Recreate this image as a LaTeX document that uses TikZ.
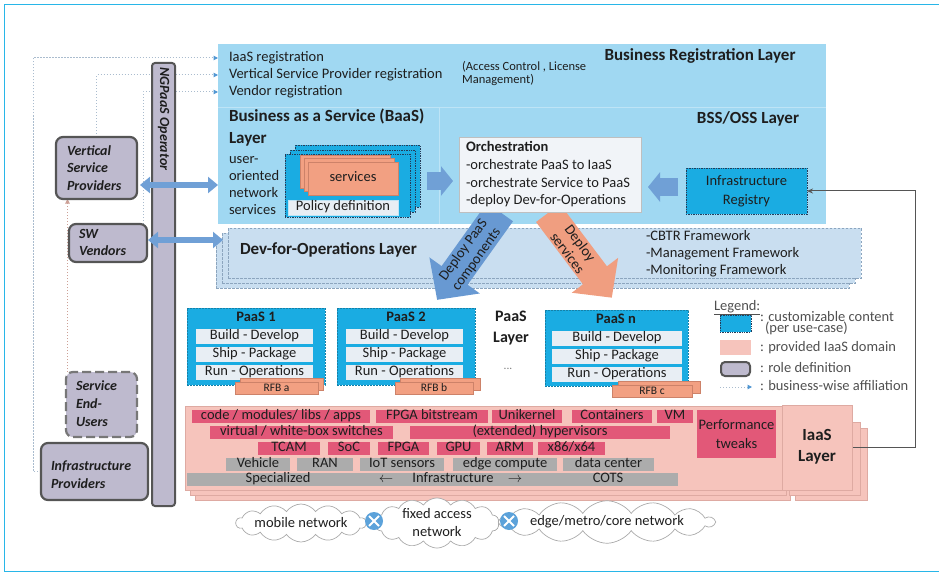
\documentclass[tikz,border=0pt]{standalone}
\usepackage{fontspec}
\setmainfont{Carlito}
\usetikzlibrary{shapes.symbols,arrows.meta,backgrounds,calc}
\definecolor{layerblue}{RGB}{160,216,242}
\definecolor{sepblue}{RGB}{190,228,246}
\definecolor{custcyan}{RGB}{26,172,226}
\definecolor{custborder}{RGB}{35,60,90}
\definecolor{salmon}{RGB}{242,160,130}
\definecolor{salmonborder}{RGB}{205,130,105}
\definecolor{iaaspink}{RGB}{246,196,188}
\definecolor{iaasborder}{RGB}{222,170,162}
\definecolor{crimson}{RGB}{226,88,120}
\definecolor{rowgray}{RGB}{172,172,172}
\definecolor{devops}{RGB}{201,222,240}
\definecolor{devborder}{RGB}{140,165,190}
\definecolor{orchfill}{RGB}{241,244,248}
\definecolor{rowfill}{RGB}{232,238,244}
\definecolor{rolefill}{RGB}{190,186,206}
\definecolor{roleborder}{RGB}{85,85,85}
\definecolor{arrowblue}{RGB}{112,160,214}
\definecolor{deployblue}{RGB}{104,153,210}
\definecolor{deploysalmon}{RGB}{240,158,128}
\definecolor{affil}{RGB}{170,188,206}
\definecolor{affiltip}{RGB}{80,150,210}
\definecolor{affilpink}{RGB}{205,160,150}
\definecolor{frameblue}{RGB}{40,182,232}
\definecolor{txt}{RGB}{30,30,30}
\definecolor{legtxt}{RGB}{80,80,80}
\definecolor{xblue}{RGB}{92,162,218}
\definecolor{cloudline}{RGB}{170,170,170}

\newcommand{\mybox}[7][]{\node[inner sep=0pt,outer sep=0pt,minimum width={#5-#3},minimum height={#6-#4},#1] (#2) at ({(#3+#5)/2},{(#4+#6)/2}) {#7};}

\tikzset{
  tx/.style={inner sep=0pt, outer sep=0pt, text height=0.78em, text depth=0.1em, text=txt},
  f14/.style={tx, font=\fontsize{14.5}{17}\selectfont},
  f11/.style={tx, font=\fontsize{11.5}{13}\selectfont},
  b17/.style={tx, font=\bfseries\fontsize{17}{20}\selectfont},
  b16/.style={tx, font=\bfseries\fontsize{16}{20}\selectfont},
  b145/.style={tx, font=\bfseries\fontsize{14.5}{17}\selectfont},
  bi14/.style={tx, font=\bfseries\itshape\fontsize{14}{17}\selectfont},
  m14/.style={inner sep=0pt, outer sep=0pt, align=center, text=txt, font=\fontsize{14.5}{19}\selectfont},
  cust/.style={fill=custcyan, draw=custborder, line width=0.8pt, dash pattern=on 1.4pt off 1pt},
  devbox/.style={fill=devops, draw=devborder, line width=0.6pt, dash pattern=on 2.5pt off 1.5pt},
  paasbox/.style={fill=custcyan, draw=custcyan!75!black, line width=0.5pt, dash pattern=on 2pt off 1pt},
  rowbox/.style={fill=rowfill, f14},
  rfb/.style={fill=salmon, draw=salmonborder, line width=0.4pt, f11},
  svc/.style={fill=salmon, draw=salmonborder, line width=0.3pt},
  iaasbox/.style={fill=iaaspink, draw=iaasborder, line width=0.5pt},
  redrow/.style={fill=crimson, f14},
  grayrow/.style={fill=rowgray, f14},
  rolebox/.style={fill=rolefill, draw=roleborder, line width=2.2pt, rounded corners=7pt},
  affline/.style={draw=affil, line width=1pt, dash pattern=on 1.2pt off 1.8pt, -{Triangle[length=4.5pt,width=4.5pt,color=affiltip]}},
  dblarrow/.style={draw=arrowblue, line width=6pt, {Triangle[length=10pt,width=16pt]}-{Triangle[length=10pt,width=16pt]}},
  fatarrow/.style={draw=arrowblue, line width=18pt, -{Triangle[length=12pt,width=29pt]}},
  cloudnode/.style={cloud, cloud puffs=14, cloud puff arc=110, cloud ignores aspect, draw=cloudline, fill=white, line width=0.7pt, inner sep=0pt, text=txt, align=center, font=\fontsize{14.5}{18}\selectfont},
  legtext/.style={f14, anchor=west, text=legtxt},
}

\begin{document}
\begin{tikzpicture}[x=1pt,y=-1pt]
\useasboundingbox (0,0) rectangle (939,572);
\draw[frameblue, line width=0.8pt] (939,4) -- (4,4) -- (4,571) -- (939,571);

% ---------- Dev-for-Operations layer
\mybox[devbox]{devC}{216}{238}{849}{288}{}
\mybox[devbox]{devB}{222}{233}{855}{283}{}
\mybox[devbox]{devA}{228}{228}{861}{278}{}
\node[b17, anchor=west] (devT) at (240,251) {Dev-for-Operations Layer};
\node[f14, anchor=west] (cbtr) at (646,237) {-CBTR Framework};
\node[f14, anchor=west] (mgmt) at (646,254) {-Management Framework};
\node[f14, anchor=west] (mon) at (646,271) {-Monitoring Framework};

% ---------- Business registration + BSS/OSS
\mybox[fill=layerblue]{brl}{218}{44}{826}{224}{}
\draw[sepblue, line width=0.8pt] (218,107) -- (826,107) (439,107) -- (439,224);
\node[f14, anchor=west] (iaasreg) at (229,58) {IaaS registration};
\node[f14, anchor=west] (vspreg) at (229,75) {Vertical Service Provider registration};
\node[f14, anchor=west] (vendreg) at (229,92) {Vendor registration};
\node[inner sep=0pt, align=left, anchor=west, text=txt, font=\fontsize{12.5}{13}\selectfont] (acl) at (462,74) {(Access Control , License\\Management)};
\node[b17] (brlT) at (700,57) {Business Registration Layer};
\node[b17, anchor=west] (baasT) at (229,118) {Business as a Service (BaaS)};
\node[b17, anchor=west] (baasT2) at (229,140) {Layer};
\node[f14, anchor=west] (uo1) at (229,160) {user-};
\node[f14, anchor=west] (uo2) at (229,177) {oriented};
\node[f14, anchor=west] (uo3) at (229,194) {network};
\node[f14, anchor=west] (uo4) at (229,211) {services};
\node[b17] (bssT) at (748,120) {BSS/OSS Layer};

\mybox[cust]{custC}{295}{145}{420}{207}{}
\mybox[cust]{custB}{290}{150}{415}{212}{}
\mybox[cust]{custA}{285}{154}{410}{217}{}
\mybox[svc]{svcC}{300}{155}{390}{188}{}
\mybox[svc]{svcB}{304}{158}{394}{191}{}
\mybox[svc, f14]{svcA}{308}{162}{398}{195}{services}
\mybox[fill=rowfill, draw=sepblue, line width=0.5pt, f14]{policy}{288}{200}{398}{215}{Policy definition}

% ---------- deploy arrows
\begin{scope}[shift={(500,212)}, rotate=234.4]
\fill[deployblue] (0,-16) -- (78,-16) -- (78,-31) -- (108,0) -- (78,31) -- (78,16) -- (0,16) -- cycle;
\end{scope}
\node[inner sep=0pt, align=center, text=txt, font=\fontsize{14.5}{16}\selectfont, rotate=54.4] (dpaas) at (470,255) {Deploy PaaS\\components};
\begin{scope}[shift={(548,213)}, rotate=-53]
\fill[deploysalmon] (0,-15) -- (78,-15) -- (78,-29) -- (106,0) -- (78,29) -- (78,15) -- (0,15) -- cycle;
\end{scope}
\node[inner sep=0pt, align=center, text=txt, font=\fontsize{14.5}{16}\selectfont, rotate=-53] (dsvc) at (574,248) {Deploy\\services};

% ---------- orchestration
\mybox[fill=orchfill, draw=black!25, line width=0.5pt]{orch}{459}{137}{641}{212}{}
\node[b145, anchor=west] (orchT) at (466,148) {Orchestration};
\node[f14, anchor=west] (orch1) at (466,166) {-orchestrate PaaS to IaaS};
\node[f14, anchor=west] (orch2) at (466,184) {-orchestrate Service to PaaS};
\node[f14, anchor=west] (orch3) at (466,201) {-deploy Dev-for-Operations};
\mybox[cust, m14]{infra}{686}{168}{807}{214}{Infrastructure\\Registry}
\draw[fatarrow] ($(custC.east)+(7,5)$) -- ($(orch.west)+(-6,6.5)$);
\draw[fatarrow] ($(infra.west)+(-8,-4)$) -- ($(infra.west -| orch.east)+(7,-4)$);

% ---------- PaaS
\mybox[paasbox]{paas1}{187}{308}{325}{385}{}
\node[b145] (paas1T) at (256,318) {PaaS 1};
\mybox[rowbox]{p1r1}{196}{329}{313}{344}{Build - Develop}
\mybox[rowbox]{p1r2}{196}{347}{313}{362}{Ship - Package}
\mybox[rowbox]{p1r3}{196}{365}{313}{380}{Run - Operations}
\mybox[rfb]{rfbA2}{240}{378}{323}{390}{}
\mybox[rfb]{rfbA}{235}{382}{318}{394}{RFB a}

\mybox[paasbox]{paas2}{337}{308}{475}{385}{}
\node[b145] (paas2T) at (406,318) {PaaS 2};
\mybox[rowbox]{p2r1}{346}{329}{463}{344}{Build - Develop}
\mybox[rowbox]{p2r2}{346}{347}{463}{362}{Ship - Package}
\mybox[rowbox]{p2r3}{346}{365}{463}{380}{Run - Operations}
\mybox[rfb]{rfbB2}{400}{378}{480}{390}{}
\mybox[rfb]{rfbB}{395}{382}{473}{394}{RFB b}

\mybox[paasbox]{paasn}{545}{310}{688}{386}{}
\node[b145] (paasnT) at (616,320) {PaaS n};
\mybox[rowbox]{pnr1}{552}{331}{682}{346}{Build - Develop}
\mybox[rowbox]{pnr2}{552}{349}{682}{364}{Ship - Package}
\mybox[rowbox]{pnr3}{552}{367}{682}{382}{Run - Operations}
\mybox[rfb]{rfbC2}{618}{381}{700}{393}{}
\mybox[rfb]{rfbC}{612}{385}{692}{397}{RFB c}

\node[b16] (plT1) at (511,318) {PaaS};
\node[b16] (plT2) at (511,339) {Layer};
\node[f11, text=gray] (pdots) at (508,366) {...};

% ---------- legend
\node[legtext] (legT) at (714,307) {\underline{Legend:}};
\mybox[cust]{legCust}{720}{315}{751}{332}{}
\node[legtext] (leg1) at (760,318) {: customizable content};
\node[legtext] (leg1b) at (765,329) {(per use-case)};
\mybox[fill=iaaspink]{legPink}{720}{340}{751}{355}{}
\node[legtext] (leg2) at (760,348) {: provided IaaS domain};
\mybox[rolebox, line width=2pt, rounded corners=4pt]{legRole}{721}{362}{750}{376}{}
\node[legtext] (leg3) at (760,369) {: role definition};
\coordinate (legA1) at (720,387);
\coordinate (legA2) at (752,387);
\draw[affline] (legA1) -- (legA2);
\node[legtext] (leg4) at (760,387) {: business-wise affiliation};

% ---------- IaaS
\mybox[iaasbox]{iaasC}{195}{416}{790}{500}{}
\mybox[iaasbox]{iaasB}{190}{411}{786}{495}{}
\mybox[iaasbox]{iaasA}{185}{406}{782}{490}{}
\mybox[iaasbox]{panelC}{795}{428}{867}{500}{}
\mybox[iaasbox]{panelB}{789}{422}{860}{495}{}
\mybox[iaasbox]{iaasP}{782}{405}{852}{490}{}
\node[b17] (iaasT1) at (817,437) {IaaS};
\node[b17] (iaasT2) at (817,458) {Layer};

\mybox[redrow]{r1a}{192}{410}{370}{423}{code / modules/ libs / apps}
\mybox[redrow]{r1b}{376}{410}{488}{423}{FPGA bitstream}
\mybox[redrow]{r1c}{492}{410}{562}{423}{Unikernel}
\mybox[redrow]{r1d}{572}{410}{652}{423}{Containers}
\mybox[redrow]{r1e}{657}{410}{693}{423}{VM}
\mybox[fill=crimson, m14]{perf}{697}{410}{776}{458}{Performance\\tweaks}
\mybox[redrow]{r2a}{210}{426}{393}{439}{virtual / white-box switches}
\mybox[redrow]{r2b}{410}{426}{670}{439}{(extended) hypervisors}
\mybox[redrow]{r3a}{258}{442}{320}{455}{TCAM}
\mybox[redrow]{r3b}{328}{442}{370}{455}{SoC}
\mybox[redrow]{r3c}{378}{442}{429}{455}{FPGA}
\mybox[redrow]{r3d}{437}{442}{480}{455}{GPU}
\mybox[redrow]{r3e}{487}{442}{533}{455}{ARM}
\mybox[redrow]{r3f}{538}{442}{605}{455}{x86/x64}
\mybox[grayrow]{r4a}{226}{458}{290}{471}{Vehicle}
\mybox[grayrow]{r4b}{297}{458}{353}{471}{RAN}
\mybox[grayrow]{r4c}{360}{458}{444}{471}{IoT sensors}
\mybox[grayrow]{r4d}{453}{458}{557}{471}{edge compute}
\mybox[grayrow]{r4e}{563}{458}{654}{471}{data center}
\mybox[grayrow]{r5}{187}{473}{678}{486}{}
\node[f14] (spec) at (278,479) {Specialized};
\node[f14] (larr) at (386,479) {$\leftarrow$};
\node[f14] (infT) at (453,479) {Infrastructure};
\node[f14] (rarr) at (515,479) {$\rightarrow$};
\node[f14] (cots) at (608,479) {COTS};

\draw[roleborder, line width=1pt, -{Stealth[length=6pt,width=5pt]}] ($(iaasP.east)+(1,0)$) -- ++(62,0) |- (infra.east);

% ---------- clouds
\node[cloudnode, minimum width=126, minimum height=38] (cl1) at (301,523) {mobile network};
\node[cloudnode, minimum width=124, minimum height=46] (cl2) at (437,523) {fixed access\\network};
\node[cloudnode, minimum width=184, minimum height=38] (cl3) at (607,522) {edge/metro/core network};
\node[circle, fill=xblue, minimum size=18, inner sep=0pt] (x1) at (374,521) {};
\node[circle, fill=xblue, minimum size=18, inner sep=0pt] (x2) at (509,521) {};
\draw[white, line width=2pt] ($(x1)+(-5,-5)$) -- ($(x1)+(5,5)$) ($(x1)+(-5,5)$) -- ($(x1)+(5,-5)$);
\draw[white, line width=2pt] ($(x2)+(-5,-5)$) -- ($(x2)+(5,5)$) ($(x2)+(-5,5)$) -- ($(x2)+(5,-5)$);

% ---------- roles
\mybox[rolebox, rounded corners=3pt, line width=2pt]{ngp}{152}{63}{175}{506}{}
\node[bi14, rotate=-90] (ngpT) at (163.5,119) {NGPaaS Operator};
\mybox[rolebox]{VSP}{56}{137}{137}{199}{}
\node[bi14, anchor=west] (vsp1) at (67,152) {Vertical};
\node[bi14, anchor=west] (vsp2) at (67,169) {Service};
\node[bi14, anchor=west] (vsp3) at (67,187) {Providers};
\mybox[rolebox]{SW}{69}{224}{147}{262}{}
\node[bi14, anchor=west] (sw1) at (79,235) {SW};
\node[bi14, anchor=west] (sw2) at (79,252) {Vendors};
\mybox[rolebox, draw=roleborder!80, dash pattern=on 9pt off 4pt]{SEU}{66}{372}{137}{437}{}
\node[bi14, anchor=west] (seu1) at (76,387) {Service};
\node[bi14, anchor=west] (seu2) at (76,405) {End-};
\node[bi14, anchor=west] (seu3) at (76,423) {Users};
\mybox[rolebox]{IP}{41}{443}{148}{500}{}
\node[bi14, anchor=west] (ip1) at (51,467) {Infrastructure};
\node[bi14, anchor=west] (ip2) at (51,485) {Providers};

\draw[dblarrow] ($(VSP.east)+(3,17)$) -- ($(VSP.east -| brl.west)+(0,17)$);
\draw[dblarrow] ($(SW.east)+(1,-3)$) -- ($(SW.east -| devB.west)+(1,-3)$);

\begin{scope}[on background layer]
\draw[affline] (IP.west) -- ++(-8,0) |- ($(iaasreg.west)+(-11,0)$);
\draw[affline] (VSP.north) |- ($(vspreg.west)+(-11,0)$);
\draw[affline] ($(SW.north)+(35,0)$) |- ($(vendreg.west)+(-11,0)$);
\draw[affline, draw=affilpink, -{Triangle[length=4.5pt,width=4.5pt,color=affilpink]}] ($(SEU.north)+(-34,0)$) coordinate (seuA) -- (seuA |- VSP.south);
\end{scope}
\end{tikzpicture}
\end{document}
